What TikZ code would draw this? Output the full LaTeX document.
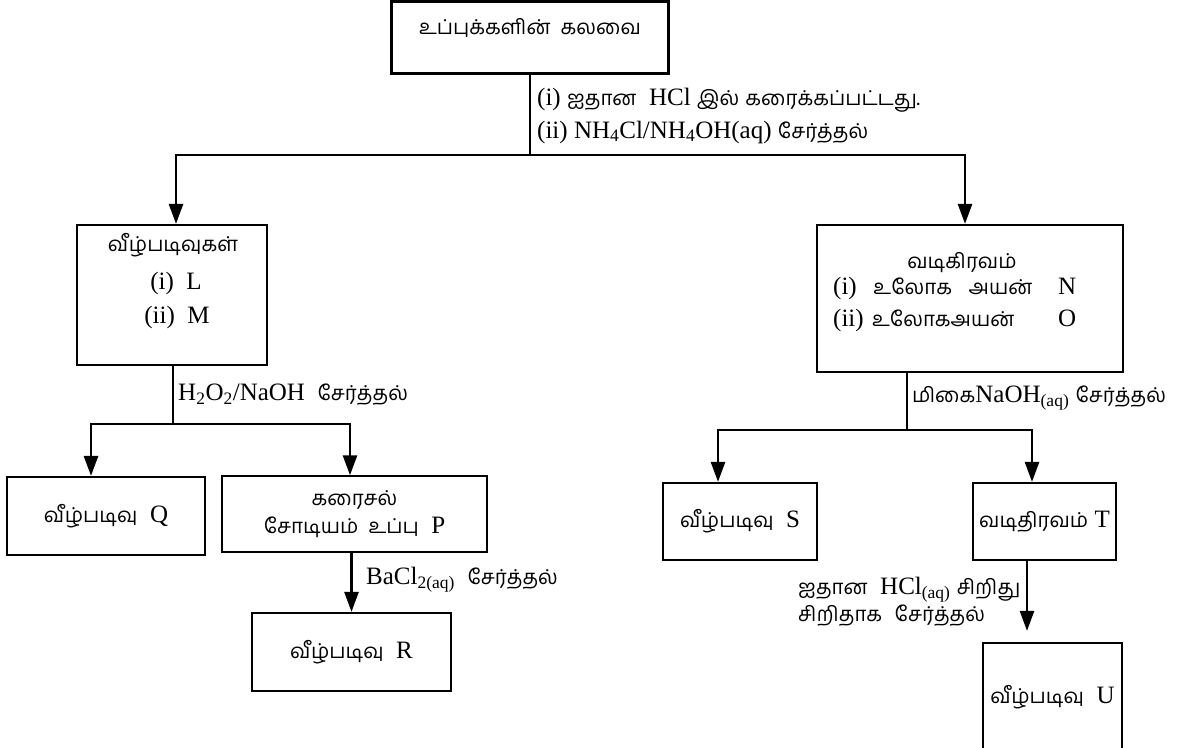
\documentclass[tikz,border=0pt]{standalone}
\usepackage{fontspec}
\setmainfont{Liberation Serif}
\newfontfamily\tamilfont[Script=Tamil,Scale=0.82]{Hind Madurai}
\usetikzlibrary{arrows.meta}
\newcommand{\ta}[1]{{\tamilfont #1}}
\tikzset{
    flow-box/.style = {draw, line width=2.2pt, rectangle, inner sep=0pt},
    flow-line/.style = {draw, line width=2.6pt},
    flow-arrow/.style = {flow-line, -{Triangle[length=20pt,width=14pt]}},
    flow-text/.style = {inner sep=0pt, anchor=west},
}

\begin{document}
\begin{tikzpicture}[x=1pt, y=-1pt, font=\fontsize{25}{30}\selectfont]
\useasboundingbox (0,0) rectangle (1185,747);
\clip (0,0) rectangle (1185,747);

\node[flow-box, minimum width=277pt, minimum height=72pt] (mix) at (530,37.5) {};
\node (mix-title) at (530,28) {\ta{உப்புக்களின்~~கலவை}};

\node[flow-box, minimum width=190pt, minimum height=140pt] (ppt) at (172,295) {};
\node (ppt-title) at (173,245) {\ta{வீழ்படிவுகள்}};
\node (ppt-i) at (176,283) {(i)~~L};
\node (ppt-ii) at (177,317) {(ii)~~M};

\node[flow-box, minimum width=306pt, minimum height=147pt] (filt) at (970,298.5) {};
\node (filt-title) at (962,263) {\ta{வடிகிரவம்}};
\node[flow-text, text width=243pt] (filt-i) at (833,288) {(i)~~\ta{உலோக~~அயன்}\hfill N};
\node[flow-text, text width=243pt] (filt-ii) at (833,320) {(ii) \ta{உலோகஅயன்}\hfill O};

\node[flow-box, minimum width=198pt, minimum height=78pt] (q) at (106,516) {\ta{வீழ்படிவு}~~Q};
\node[flow-box, line width=1.4pt, minimum width=265pt, minimum height=76pt, align=center] (sol) at (354.5,514) {\ta{கரைசல்}\\[-2pt]\ta{சோடியம்~~உப்பு}~~P};
\node[flow-box, minimum width=199pt, minimum height=78pt] (r) at (351.5,652) {\ta{வீழ்படிவு}~~R};
\node[flow-box, minimum width=154pt, minimum height=77pt] (s) at (740,521.5) {\ta{வீழ்படிவு}~~S};
\node[flow-box, minimum width=143pt, minimum height=77pt] (t) at (1044.5,521.5) {\ta{வடிதிரவம்} T};
\node[flow-box, minimum width=139pt, minimum height=109pt] (u) at (1052.5,697.5) {\ta{வீழ்படிவு}~~U};

\coordinate (split-top) at (530,155);
\coordinate (split-ppt) at (173,424);
\coordinate (split-filt) at (907,430);

\draw[flow-line] (mix.south) -- (split-top);
\draw[flow-arrow] (split-top) -| ([xshift=4pt]ppt.north);
\draw[flow-arrow] (split-top) -| ([xshift=-5pt]filt.north);
\draw[flow-line] (split-ppt |- ppt.south) -- (split-ppt);
\draw[flow-arrow] (split-ppt) -| ([xshift=-15pt]q.north);
\draw[flow-arrow] (split-ppt) -| ([xshift=-4.5pt]sol.north);
\draw[flow-arrow] (r.north |- sol.south) -- (r.north);
\draw[flow-line] (split-filt |- filt.south) -- (split-filt);
\draw[flow-arrow] (split-filt) -| ([xshift=-22pt]s.north);
\draw[flow-arrow] (split-filt) -| ([xshift=-12.5pt]t.north);
\draw[flow-arrow, shorten >=11pt] ([xshift=-17.5pt]t.south) -- ([xshift=-17.5pt]t.south |- u.north);

\node[flow-text] (mix-step-i) at (537,100) {(i) \ta{ஐதான}~~HCl \ta{இல்}~\ta{கரைக்கப்பட்டது.}};
\node[flow-text] (mix-step-ii) at (537,132) {(ii) NH\textsubscript{4}Cl/NH\textsubscript{4}OH(aq) \ta{சேர்த்தல்}};
\node[flow-text] (ppt-step) at (178,395) {H\textsubscript{2}O\textsubscript{2}/NaOH~~\ta{சேர்த்தல்}};
\node[flow-text] (filt-step) at (912,398) {\ta{மிகை}NaOH\textsubscript{(aq)}~\ta{சேர்த்தல்}};
\node[flow-text] (sol-step) at (366,580) {BaCl\textsubscript{2(aq)}~~\ta{சேர்த்தல்}};
\node[flow-text, align=left] (t-step) at (798,602) {\ta{ஐதான}~~HCl\textsubscript{(aq)}~\ta{சிறிது}\\[-3pt]\ta{சிறிதாக}~~\ta{சேர்த்தல்}};
\end{tikzpicture}
\end{document}
